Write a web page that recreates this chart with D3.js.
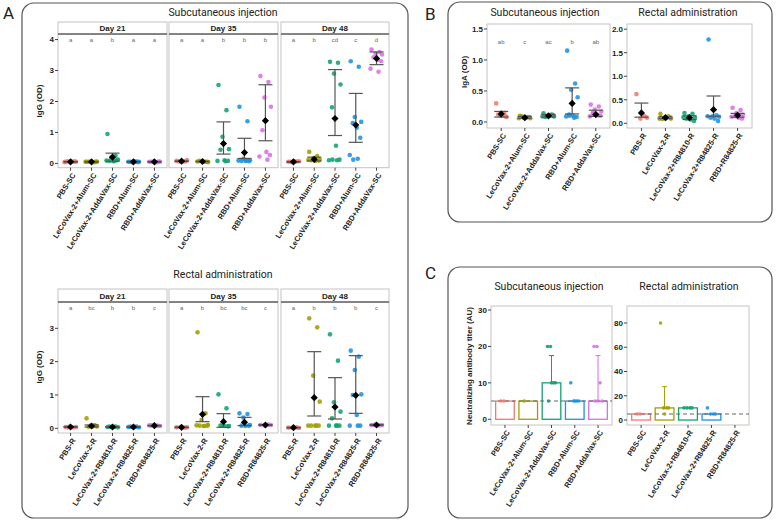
<!DOCTYPE html>
<html><head><meta charset="utf-8">
<script src="https://cdn.jsdelivr.net/npm/d3@7"></script>
<style>body{margin:0;background:#fff}svg{display:block}</style>
</head><body><svg id="c" width="776" height="528"></svg>
<script>
// ---------------- DATA ----------------
const COLORS = ["#F07A70","#A39E00","#12A26F","#1C92E4","#D870E4"];
const days = ["Day 21","Day 35","Day 48"];
const groupsSC = ["PBS-SC","LeCoVax-2+Alum-SC","LeCoVax-2+AddaVax-SC","RBD+Alum-SC","RBD+AddaVax-SC"];
const groupsR = ["PBS-R","LeCoVax-2-R","LeCoVax-2+R84810-R","LeCoVax-2+R84825-R","RBD+R84825-R"];
const groupsNtR = ["PBS-SC","LeCoVax-2-R","LeCoVax-2+R84810-R","LeCoVax-2+R84825-R","RBD+R84825-R"];

// A: IgG subcutaneous, per day: points, mean, lower/upper error bars, letters
const iggScPoints = [
  [[0.05,0.06,0.04,0.05,0.07,0.05,0.06,0.04],[0.05,0.04,0.06,0.05,0.05,0.04,0.06,0.05],[0.95,0.25,0.2,0.12,0.08,0.07,0.1,0.09,0.08],[0.05,0.06,0.04,0.05,0.05,0.06,0.04],[0.05,0.04,0.06,0.05,0.05,0.04,0.06]],
  [[0.08,0.06,0.05,0.1,0.07,0.06,0.08],[0.06,0.05,0.07,0.04,0.08,0.06,0.05],[2.53,1.72,0.86,0.46,0.44,0.1,0.08,0.08,0.07],[1.83,1.36,0.15,0.1,0.08,0.08,0.07,0.09,0.1],[2.82,2.63,2.13,1.83,1.07,0.37,0.27,0.22,0.12]],
  [[0.05,0.06,0.04,0.07,0.05,0.06],[0.37,0.24,0.17,0.12,0.1,0.08,0.09,0.11],[3.28,3.25,2.9,2.55,1.81,0.57,0.12,0.1,0.1,0.12],[3.3,3.12,1.5,1.34,1.3,1.15,0.83,0.27,0.15,0.12],[3.68,3.6,3.55,3.52,3.43,3.35,3.3,3.06,2.96]]
];
const iggScMean = [[0.05,0.05,0.2,0.05,0.05],[0.07,0.06,0.64,0.35,1.38],[0.05,0.13,1.45,1.24,3.39]];
const iggScLo   = [[0.04,0.04,0.07,0.04,0.04],[0.06,0.05,0.3,0.16,0.73],[0.04,0.08,0.9,0.68,3.19]];
const iggScHi   = [[0.06,0.06,0.33,0.06,0.06],[0.08,0.07,1.34,0.81,2.54],[0.06,0.2,3.03,2.26,3.6]];
const iggScLetters = [["a","a","b","a","a"],["a","a","b","b","b"],["a","b","cd","c","d"]];

// A: IgG rectal
const iggRPoints = [
  [[0.04,0.03,0.05,0.04,0.03],[0.3,0.1,0.08,0.06,0.05,0.05,0.07],[0.04,0.05,0.04,0.03,0.05,0.04],[0.04,0.05,0.04,0.03,0.05,0.04],[0.09,0.08,0.1,0.07,0.08]],
  [[0.03,0.02,0.04,0.03],[2.88,0.45,0.25,0.1,0.08,0.07,0.08,0.09,0.07],[1.02,0.6,0.08,0.07,0.08,0.07,0.06],[0.45,0.43,0.32,0.1,0.08,0.07,0.08],[0.1,0.11,0.09,0.1]],
  [[0.02,0.03,0.02,0.01],[3.3,3.03,1.58,0.8,0.08,0.08,0.08,0.08,0.08],[2.82,2.03,0.78,0.5,0.3,0.08,0.08,0.08,0.08],[2.33,2.15,1.75,1.02,1.0,0.4,0.08,0.08,0.08],[0.1,0.09,0.11,0.1,0.1]]
];
const iggRMean = [[0.04,0.07,0.04,0.04,0.08],[0.03,0.42,0.2,0.18,0.1],[0.02,0.92,0.64,0.99,0.1]];
const iggRLo   = [[0.03,0.04,0.03,0.03,0.07],[0.02,0.2,0.03,0.08,0.09],[0.01,0.37,0.28,0.45,0.09]];
const iggRHi   = [[0.05,0.1,0.05,0.05,0.09],[0.04,0.95,0.44,0.33,0.11],[0.03,2.3,1.52,2.18,0.11]];
const iggRLetters = [["a","bc","b","b","c"],["a","b","bc","bc","c"],["a","b","b","b","c"]];

// B: IgA
const igaScPoints = [[0.3,0.15,0.1,0.08,0.12,0.1,0.09],[0.1,0.08,0.07,0.06,0.09,0.07,0.08,0.06],[0.14,0.12,0.1,0.09,0.08,0.1,0.11,0.09],[1.15,0.62,0.52,0.4,0.12,0.1,0.08,0.09,0.07,0.1],[0.28,0.25,0.2,0.17,0.15,0.12,0.1,0.09,0.11,0.13]];
const igaScMean = [0.13,0.07,0.1,0.3,0.12];
const igaScLo = [0.08,0.06,0.08,0.13,0.09];
const igaScHi = [0.17,0.09,0.12,0.55,0.19];
const igaScLetters = ["ab","c","ac","b","ab"];
const igaRPoints = [[0.62,0.15,0.1,0.12],[0.2,0.15,0.12,0.1,0.09,0.11,0.13,0.1],[0.22,0.2,0.15,0.12,0.1,0.08,0.05,0.13],[1.78,0.17,0.15,0.14,0.12,0.1,0.05,0.15],[0.33,0.28,0.22,0.18,0.15,0.12,0.1,0.14]];
const igaRMean = [0.22,0.12,0.12,0.29,0.17];
const igaRLo = [0.13,0.1,0.08,0.15,0.13];
const igaRHi = [0.43,0.14,0.16,0.58,0.21];

// C: neutralizing titers
const ntScBar = [5,5,10,5,5];
const ntScHi = [5,5,17.5,5,17.5];
const ntScPoints = [[5,5],[5],[20,20,10,10,10,5],[10,5,5,5,5],[20,20,10,5,5,5]];
const ntRBar = [5,10,10,5,null];
const ntRHi = [5,27.5,10,5,null];
const ntRPoints = [[5,5],[80,10,10,10,5],[10,10,10,10],[10,5,5,5],[]];
const ntThreshold = 5;

// ---------------- DRAWING ----------------
const svg = d3.select("#c");
const AX = "Liberation Sans, Arial, sans-serif";
const TT = "Roboto, Liberation Sans, sans-serif";
const jit = [-5,3,-1,5.5,-3,1,4.5,-6,2,-2.5];

function box(x,y,w,h){
  svg.append("rect").attr("x",x).attr("y",y).attr("width",w).attr("height",h)
    .attr("rx",12).attr("fill","none").attr("stroke","#555").attr("stroke-width",1.2);
}
function label(t,x,y){ svg.append("text").attr("x",x).attr("y",y).text(t)
  .attr("font-family",TT).attr("font-size",17).attr("fill","#222"); }
function title(t,x,y){ svg.append("text").attr("x",x).attr("y",y).text(t).attr("text-anchor","middle")
  .attr("font-family",TT).attr("font-size",10.5).attr("fill","#222"); }
function ytitle(t,x,y){ svg.append("text").attr("transform",`translate(${x},${y}) rotate(-90)`).text(t)
  .attr("text-anchor","middle").attr("font-family",AX).attr("font-weight","bold").attr("font-size",8).attr("fill","#222"); }

function frame(x0,x1,y0,y1){
  svg.append("rect").attr("x",x0).attr("y",y0).attr("width",x1-x0).attr("height",y1-y0)
    .attr("fill","none").attr("stroke","#c4c4c4").attr("stroke-width",1);
}
function strip(x0,x1,y0,y1,t){
  svg.append("rect").attr("x",x0).attr("y",y0).attr("width",x1-x0).attr("height",y1-y0)
    .attr("fill","#fff").attr("stroke","#c4c4c4");
  svg.append("line").attr("x1",x0).attr("x2",x1).attr("y1",y1).attr("y2",y1).attr("stroke","#666").attr("stroke-width",1.4);
  svg.append("text").attr("x",(x0+x1)/2).attr("y",(y0+y1)/2+3).attr("text-anchor","middle").text(t)
    .attr("font-family",AX).attr("font-weight","bold").attr("font-size",8).attr("fill","#222");
}
function yAxis(y,x0,ticks,fmt){
  const g = svg.append("g");
  ticks.forEach(t=>{
    g.append("line").attr("x1",x0-3).attr("x2",x0).attr("y1",y(t)).attr("y2",y(t)).attr("stroke","#444");
    g.append("text").attr("x",x0-4).attr("y",y(t)+2.8).attr("text-anchor","end").text(fmt(t))
      .attr("font-family",AX).attr("font-weight","bold").attr("font-size",8).attr("fill","#222");
  });
}
function xLabels(x,cats,yb){
  cats.forEach(c=>{
    svg.append("line").attr("x1",x(c)).attr("x2",x(c)).attr("y1",yb).attr("y2",yb+3).attr("stroke","#444");
    svg.append("text").attr("transform",`translate(${x(c)+3},${yb+6}) rotate(-58)`)
      .attr("text-anchor","end").attr("dy","0.35em").text(c)
      .attr("font-family",AX).attr("font-weight","bold").attr("font-size",7.6).attr("fill","#222");
  });
}
const diamond = "M0,-3.6L3.6,0L0,3.6L-3.6,0Z";
function dots(x,y,cats,pts,mean,lo,hi,r,cap){
  cats.forEach((c,i)=>{
    pts[i].forEach((v,j)=>{
      svg.append("circle").attr("cx",x(c)+jit[j%jit.length]).attr("cy",y(v)).attr("r",r)
        .attr("fill",COLORS[i]).attr("opacity",0.88);
    });
    const cx = x(c);
    svg.append("line").attr("x1",cx).attr("x2",cx).attr("y1",y(lo[i])).attr("y2",y(hi[i])).attr("stroke","#555").attr("stroke-width",1.2);
    [lo[i],hi[i]].forEach(v=>svg.append("line").attr("x1",cx-cap).attr("x2",cx+cap).attr("y1",y(v)).attr("y2",y(v)).attr("stroke","#555").attr("stroke-width",1.2));
    svg.append("path").attr("d",diamond).attr("transform",`translate(${cx},${y(mean[i])})`).attr("fill","#000");
  });
}
function letters(x,cats,ls,yy){
  cats.forEach((c,i)=>svg.append("text").attr("x",x(c)).attr("y",yy).attr("text-anchor","middle").text(ls[i])
    .attr("font-family",AX).attr("font-size",6).attr("fill","#666"));
}

// boxes & labels
box(22,3,386,515); box(448,2,324,220); box(448,267,324,251);
label("A",3,19); label("B",425,20); label("C",425,279);

// Panel A
const aPanels = [[58,167],[169,278],[281,389]];
title("Subcutaneous injection",223,15.5);
title("Rectal administration",223,278);
const yTop = d3.scaleLinear().domain([-0.14,4.18]).range([167.7,34]);
const yBot = d3.scaleLinear().domain([-0.14,3.79]).range([433,302]);
ytitle("IgG (OD)",42,101); ytitle("IgG (OD)",42,367);
days.forEach((d,k)=>{
  const [x0,x1] = aPanels[k];
  frame(x0,x1,34,167.7); strip(x0,x1,22,34,d);
  const x = d3.scalePoint().domain(groupsSC).range([x0,x1]).padding(0.6);
  letters(x,groupsSC,iggScLetters[k],42);
  dots(x,yTop,groupsSC,iggScPoints[k],iggScMean[k],iggScLo[k],iggScHi[k],2.3,7);
  xLabels(x,groupsSC,167.7);
  if(k===0) yAxis(yTop,x0,[0,1,2,3,4],d3.format("d"));
  frame(x0,x1,302,433); strip(x0,x1,289,302,d);
  const xb = d3.scalePoint().domain(groupsR).range([x0,x1]).padding(0.6);
  letters(xb,groupsR,iggRLetters[k],310);
  dots(xb,yBot,groupsR,iggRPoints[k],iggRMean[k],iggRLo[k],iggRHi[k],2.3,7);
  xLabels(xb,groupsR,433);
  if(k===0) yAxis(yBot,x0,[0,1,2,3],d3.format("d"));
});

// Panel B
title("Subcutaneous injection",545,15.5); title("Rectal administration",688,15.5);
ytitle("IgA (OD)",467,72);
{
  const yL = d3.scaleLinear().domain([-0.097,1.58]).range([128,24]);
  const xL = d3.scalePoint().domain(groupsSC).range([487,610]).padding(0.6);
  frame(487,610,24,128);
  yAxis(yL,487,[0,0.5,1,1.5],d3.format(".1f"));
  letters(xL,groupsSC,igaScLetters,44);
  dots(xL,yL,groupsSC,igaScPoints,igaScMean,igaScLo,igaScHi,2.3,7);
  xLabels(xL,groupsSC,128);
  const yR = d3.scaleLinear().domain([-0.1,2.11]).range([128,24]);
  const xR = d3.scalePoint().domain(groupsR).range([627,752]).padding(0.6);
  frame(627,752,24,128);
  yAxis(yR,627,[0,0.5,1,1.5,2],d3.format(".1f"));
  dots(xR,yR,groupsR,igaRPoints,igaRMean,igaRLo,igaRHi,2.3,7);
  xLabels(xR,groupsR,128);
}

// Panel C
title("Subcutaneous injection",549,290); title("Rectal administration",689,290);
ytitle("Neutralizing antibody titer (AU)",472,366);
function bars(x,y,cats,bar,hi,pts,x0,x1){
  const w = x.step()*0.8;
  cats.forEach((c,i)=>{
    if(bar[i]==null) return;
    const cx = x(c);
    if(hi[i]>bar[i]){
      svg.append("line").attr("x1",cx).attr("x2",cx).attr("y1",y(bar[i])).attr("y2",y(hi[i])).attr("stroke",COLORS[i]).attr("stroke-width",1);
      svg.append("line").attr("x1",cx-2.5).attr("x2",cx+2.5).attr("y1",y(hi[i])).attr("y2",y(hi[i])).attr("stroke",COLORS[i]).attr("stroke-width",1);
    }
    svg.append("rect").attr("x",cx-w/2).attr("y",y(bar[i])).attr("width",w).attr("height",y(0)-y(bar[i]))
      .attr("fill","none").attr("stroke",COLORS[i]).attr("stroke-width",1.3);
  });
  svg.append("line").attr("x1",x0).attr("x2",x1).attr("y1",y(ntThreshold)).attr("y2",y(ntThreshold))
    .attr("stroke","#666").attr("stroke-width",1.1).attr("stroke-dasharray","4,3");
  cats.forEach((c,i)=>pts[i].forEach((v,j)=>svg.append("circle").attr("cx",x(c)+[-4,-1,2,4,0,-3][j%6]).attr("cy",y(v)).attr("r",1.8)
    .attr("fill",COLORS[i]).attr("opacity",0.9)));
}
{
  const yL = d3.scaleLinear().domain([-1.57,31.1]).range([425,306]);
  const xL = d3.scalePoint().domain(groupsSC).range([491,612]).padding(0.6);
  frame(491,612,306,425);
  yAxis(yL,491,[0,10,20,30],d3.format("d"));
  bars(xL,yL,groupsSC,ntScBar,ntScHi,ntScPoints,491,612);
  xLabels(xL,groupsSC,425);
  const yR = d3.scaleLinear().domain([-4.1,94]).range([425,306]);
  const xR = d3.scalePoint().domain(groupsNtR).range([627,749]).padding(0.6);
  frame(627,749,306,425);
  yAxis(yR,627,[0,20,40,60,80],d3.format("d"));
  bars(xR,yR,groupsNtR,ntRBar,ntRHi,ntRPoints,627,749);
  xLabels(xR,groupsNtR,425);
}
</script></body></html>
